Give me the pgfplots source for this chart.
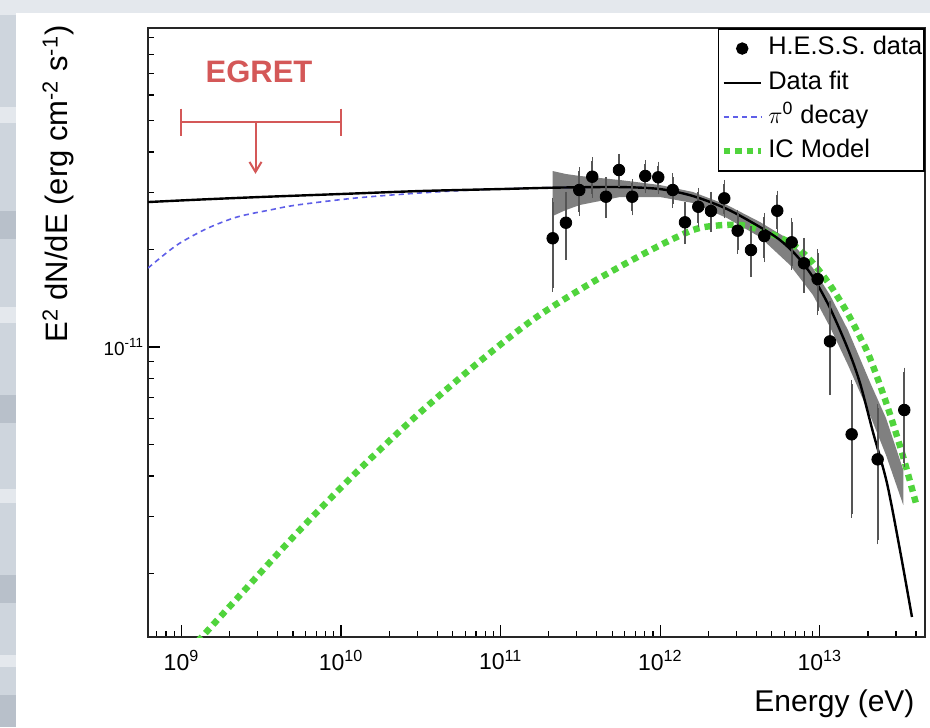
\documentclass[border=0pt]{standalone}
\usepackage{fontspec}
\setmainfont{Liberation Sans}
\usepackage{pgfplots}
\pgfplotsset{compat=1.18}
\usepackage{pgfplotstable}
\usetikzlibrary{arrows.meta}

\definecolor{egretred}{RGB}{212,88,88}
\definecolor{piblue}{RGB}{95,95,232}
\definecolor{icgreen}{RGB}{80,212,60}
\definecolor{bandgray}{RGB}{128,128,128}
\definecolor{errgray}{RGB}{85,85,85}
\definecolor{slidebg}{RGB}{206,213,221}
\definecolor{slidelight}{RGB}{228,232,237}
\definecolor{slidedark}{RGB}{184,192,202}

% H.E.S.S. spectral points: energy (eV), E^2 dN/dE, symmetric error
\pgfplotstableread{
E        F          err
2.118e11 2.166e-11  0.64e-11
2.564e11 2.419e-11  0.51e-11
3.108e11 3.052e-11  0.44e-11
3.750e11 3.355e-11  0.39e-11
4.569e11 2.910e-11  0.34e-11
5.510e11 3.518e-11  0.32e-11
6.677e11 2.910e-11  0.29e-11
8.054e11 3.372e-11  0.30e-11
9.716e11 3.341e-11  0.29e-11
1.196e12 3.052e-11  0.29e-11
1.428e12 2.426e-11  0.29e-11
1.730e12 2.710e-11  0.30e-11
2.078e12 2.629e-11  0.30e-11
2.518e12 2.877e-11  0.31e-11
3.055e12 2.286e-11  0.29e-11
3.701e12 1.992e-11  0.30e-11
4.483e12 2.201e-11  0.32e-11
5.408e12 2.634e-11  0.32e-11
6.659e12 2.105e-11  0.32e-11
7.951e12 1.813e-11  0.30e-11
9.687e12 1.621e-11  0.33e-11
1.157e13 1.041e-11  0.31e-11
1.582e13 5.377e-12  2.32e-12
2.302e13 4.501e-12  1.97e-12
3.380e13 6.391e-12  2.00e-12
}\hessdata

\begin{document}
\begin{tikzpicture}
% slide background
\fill[slidebg] (0pt,0pt) rectangle (465pt,363.5pt);
\fill[slidedark] (0pt,0pt) rectangle (8pt,16pt);
\fill[slidelight] (0pt,30pt) rectangle (8pt,36pt);
\fill[slidedark] (0pt,62pt) rectangle (8pt,76pt);
\fill[slidelight] (0pt,112pt) rectangle (8pt,119pt);
\fill[slidedark] (0pt,152pt) rectangle (8pt,166pt);
\fill[slidelight] (0pt,202pt) rectangle (8pt,210pt);
\fill[slidedark] (0pt,244pt) rectangle (8pt,258pt);
\fill[slidelight] (0pt,302pt) rectangle (8pt,310pt);
\fill[slidelight] (0pt,356pt) rectangle (465pt,363.5pt);
\fill[white] (8pt,0pt) rectangle (465pt,357pt);
\useasboundingbox (0pt,0pt) rectangle (465pt,363.5pt);

\begin{axis}[
  at={(74pt,45pt)}, anchor=south west,
  scale only axis, width=388.5pt, height=304.5pt,
  xmode=log, ymode=log,
  xmin=6.17e8, xmax=4.56e13,
  ymin=1.273e-12, ymax=9.65e-11,
  axis line style={line width=1pt, black!85},
  tick pos=left, tick align=inside,
  major tick length=6pt, minor tick length=3pt,
  every tick/.style={black, line width=0.6pt},
  xtick={1e9,1e10,1e11,1e12,1e13},
  xticklabels={10\textsuperscript{9},10\textsuperscript{10},10\textsuperscript{11},10\textsuperscript{12},10\textsuperscript{13}},
  minor xtick={7e8,8e8,9e8,2e9,3e9,4e9,5e9,6e9,7e9,8e9,9e9,
    2e10,3e10,4e10,5e10,6e10,7e10,8e10,9e10,
    2e11,3e11,4e11,5e11,6e11,7e11,8e11,9e11,
    2e12,3e12,4e12,5e12,6e12,7e12,8e12,9e12,2e13,3e13,4e13},
  ytick={1e-11},
  yticklabels={10\textsuperscript{-11}},
  minor ytick={2e-12,3e-12,4e-12,5e-12,6e-12,7e-12,8e-12,9e-12,
    2e-11,3e-11,4e-11,5e-11,6e-11,7e-11,8e-11,9e-11},
  xticklabel style={font=\fontsize{11.5}{13}\selectfont, yshift=-3pt},
  yticklabel style={font=\fontsize{9.5}{11}\selectfont, xshift=1.5pt},
  xlabel={Energy (eV)},
  xlabel style={at={(axis description cs:0.987,-0.1215)}, anchor=base east,
    inner sep=0pt, font=\fontsize{15}{18}\selectfont},
  ylabel={E\textsuperscript{2} dN/dE (erg cm\textsuperscript{-2} s\textsuperscript{-1})},
  ylabel style={at={(axis description cs:-0.103,1.005)}, anchor=base east,
    inner sep=0pt, font=\fontsize{15.5}{18}\selectfont},
  legend image code/.code={\draw[mark repeat=2,mark phase=2,#1]
    plot coordinates {(0pt,0pt) (9.25pt,0pt) (18.5pt,0pt)};},
  legend style={at={(1,1)}, anchor=north east, draw=black, line width=0.8pt,
    fill=white, inner xsep=1pt, inner ysep=3pt, row sep=3.4pt,
    font=\fontsize{12.7}{15}\selectfont,
    /tikz/every odd column/.append style={column sep=2.2pt},
    nodes={inner xsep=0pt, inner ysep=1pt, text height=9pt, text depth=2.7pt}},
  legend cell align=left,
]

% fit uncertainty band
\addplot[fill=bandgray, draw=none, forget plot] coordinates {
  (2.118e11,3.493e-11) (2.564e11,3.420e-11) (3.140e11,3.372e-11)
  (5.592e11,3.277e-11) (9.96e11,3.162e-11) (1.603e12,3.009e-11)
  (2.618e12,2.744e-11) (4.214e12,2.431e-11) (6.496e12,2.139e-11)
  (9.05e12,1.753e-11) (1.157e13,1.447e-11) (1.500e13,1.128e-11)
  (2.060e13,7.798e-12) (2.596e13,6.036e-12) (3.331e13,4.172e-12)
  (3.331e13,3.254e-12) (2.596e13,4.642e-12) (2.060e13,6.168e-12)
  (1.500e13,8.801e-12) (1.157e13,1.153e-11) (9.05e12,1.447e-11)
  (6.496e12,1.791e-11) (4.214e12,2.185e-11) (2.618e12,2.501e-11)
  (1.603e12,2.783e-11) (9.96e11,2.904e-11) (5.592e11,2.904e-11)
  (3.140e11,2.744e-11) (2.564e11,2.648e-11) (2.118e11,2.537e-11)
} -- cycle;

% pi0 decay model
\addplot[piblue, line width=0.8pt, dash pattern=on 2.6pt off 2pt, smooth, forget plot] coordinates {
  (6.17e8,1.753e-11) (7.881e8,1.936e-11) (9.786e8,2.094e-11)
  (1.445e9,2.322e-11) (2.227e9,2.519e-11) (3.585e9,2.648e-11)
  (5.293e9,2.744e-11) (1.240e10,2.884e-11) (2.904e10,2.981e-11)
  (6.902e10,3.057e-11) (1.617e11,3.095e-11) (2.353e11,3.106e-11)
  (5.592e11,3.117e-11) (9.96e11,3.073e-11) (1.603e12,2.924e-11)
  (2.618e12,2.667e-11) (4.214e12,2.346e-11) (5.623e12,2.139e-11)
  (7.187e12,1.909e-11) (9.05e12,1.644e-11) (1.157e13,1.320e-11)
  (1.500e13,9.85e-12) (1.784e13,7.745e-12) (2.151e13,5.466e-12)
  (2.633e13,3.803e-12) (3.176e13,2.363e-12) (3.777e13,1.468e-12)
};

% inverse Compton model
\addplot[icgreen, line width=3.2pt, dash pattern=on 3.2pt off 2.5pt, smooth, forget plot] coordinates {
  (1.130e9,1.162e-12) (1.339e9,1.273e-12) (2.227e9,1.674e-12)
  (5.262e9,2.659e-12) (1.238e10,4.090e-12) (2.913e10,6.085e-12)
  (6.852e10,8.757e-12) (1.612e11,1.220e-11) (3.788e11,1.589e-11)
  (8.923e11,2.004e-11) (1.603e12,2.297e-11) (2.266e12,2.371e-11)
  (3.203e12,2.380e-11) (4.214e12,2.297e-11) (5.623e12,2.178e-11)
  (7.187e12,2.028e-11) (9.05e12,1.816e-11) (1.157e13,1.554e-11)
  (1.478e13,1.282e-11) (1.784e13,1.074e-11) (2.060e13,9.249e-12)
  (2.633e13,6.622e-12) (3.316e13,4.608e-12) (4.059e13,3.208e-12)
};

% spectral fit
\addplot[black, line width=1.2pt, smooth, forget plot] coordinates {
  (6.17e8,2.802e-11) (1.306e9,2.852e-11) (3.103e9,2.904e-11)
  (9.84e9,2.966e-11) (3.122e10,3.030e-11) (9.90e10,3.073e-11)
  (2.353e11,3.106e-11) (5.592e11,3.117e-11) (9.96e11,3.073e-11)
  (1.603e12,2.924e-11) (2.618e12,2.667e-11) (4.214e12,2.346e-11)
  (5.623e12,2.139e-11) (7.187e12,1.909e-11) (9.05e12,1.644e-11)
  (1.157e13,1.320e-11) (1.500e13,9.85e-12) (1.784e13,7.745e-12)
  (2.151e13,5.466e-12) (2.633e13,3.803e-12) (3.176e13,2.363e-12)
  (3.777e13,1.468e-12)
};

% EGRET upper limit
\addplot[egretred, line width=1pt, forget plot] coordinates {(1e9,4.966e-11) (1e10,4.966e-11)};
\addplot[egretred, line width=1pt, forget plot] coordinates {(1e9,5.442e-11) (1e9,4.465e-11)};
\addplot[egretred, line width=1pt, forget plot] coordinates {(1e10,5.442e-11) (1e10,4.465e-11)};
\addplot[egretred, line width=1pt, -{Straight Barb[length=5pt,width=6pt]}, forget plot]
  coordinates {(2.909e9,4.966e-11) (2.909e9,3.424e-11)};
\node[text=egretred, font=\bfseries\fontsize{15.5}{18}\selectfont]
  at (axis cs:3.06e9,7.05e-11) {EGRET};

% H.E.S.S. data points
\addplot[only marks, mark=*, mark size=2.9pt, black, forget plot,
  error bars/.cd, y dir=both, y explicit,
  error bar style={errgray, line width=1pt},
  error mark options={errgray, line width=0.7pt, mark size=2pt}]
  table[x=E, y=F, y error=err] {\hessdata};

\addlegendimage{only marks, mark=*, mark size=2.7pt, black}
\addlegendentry{H.E.S.S. data}
\addlegendimage{black, line width=1.2pt}
\addlegendentry{Data fit}
\addlegendimage{piblue, line width=0.8pt, dash pattern=on 2.6pt off 2pt}
\addlegendentry{$\pi$\textsuperscript{0} decay}
\addlegendimage{icgreen, line width=3.2pt, dash pattern=on 3.2pt off 2.5pt}
\addlegendentry{IC Model}
\end{axis}
\end{tikzpicture}
\end{document}
